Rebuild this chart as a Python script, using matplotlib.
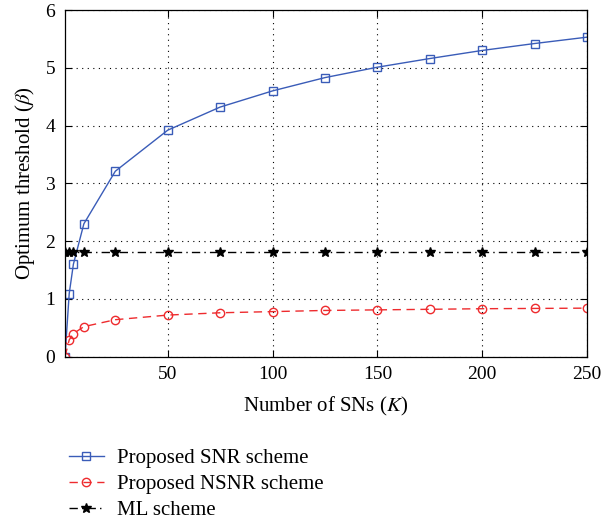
import matplotlib.pyplot as plt
import numpy as np

plt.rcParams['font.family'] = ['Liberation Serif', 'DejaVu Serif']
plt.rcParams['mathtext.fontset'] = 'stix'

# number of SNs
K = [1, 3, 5, 10, 25, 50, 75, 100, 125, 150, 175, 200, 225, 250]
snr_beta = [0.0, 1.09, 1.60, 2.30, 3.21, 3.92, 4.32, 4.60, 4.83, 5.01, 5.16, 5.30, 5.42, 5.53]
nsnr_beta = [0.0, 0.29, 0.40, 0.52, 0.64, 0.72, 0.76, 0.78, 0.80, 0.81, 0.82, 0.83, 0.835, 0.84]
ml_beta = [1.82] * len(K)

fig = plt.figure(figsize=(6.03, 5.21), dpi=100)
ax = fig.add_axes([0.1078, 0.3154, 0.8657, 0.6654])

ax.plot(K, snr_beta, '-', color='#3a5cb8', lw=1.0, marker='s', ms=5.5,
        mfc='none', mew=1.0, label='Proposed SNR scheme')
ax.plot(K, nsnr_beta, '--', color='#ee2b2e', lw=1.0, marker='o', ms=6,
        mfc='none', mew=1.0, dashes=(6, 4), label='Proposed NSNR scheme')
ax.plot(K, ml_beta, '-.', color='black', lw=1.0, marker='*', ms=7,
        mfc='black', dashes=(6, 3, 1, 3), label='ML scheme')

ax.set_xlim(1, 250)
ax.set_ylim(0, 6)
ax.set_xticks([50, 100, 150, 200, 250])
ax.set_yticks(range(7))
ax.grid(True, color='black', linestyle=(0, (1, 4)), lw=0.8)
ax.tick_params(direction='in', top=True, right=True, labelsize=14, length=5, pad=7)
for s in ax.spines.values():
    s.set_linewidth(0.9)

ax.set_xlabel('Number of SNs ($K$)', fontsize=15, labelpad=8)
ax.set_ylabel(r'Optimum threshold ($\beta$)', fontsize=15, labelpad=6)

fig.legend(loc='upper left', bbox_to_anchor=(0.100, 0.155), frameon=False,
           fontsize=15, handlelength=1.7, handletextpad=0.6,
           labelspacing=0.3, borderaxespad=0)

fig.savefig('out.png', dpi=100)
